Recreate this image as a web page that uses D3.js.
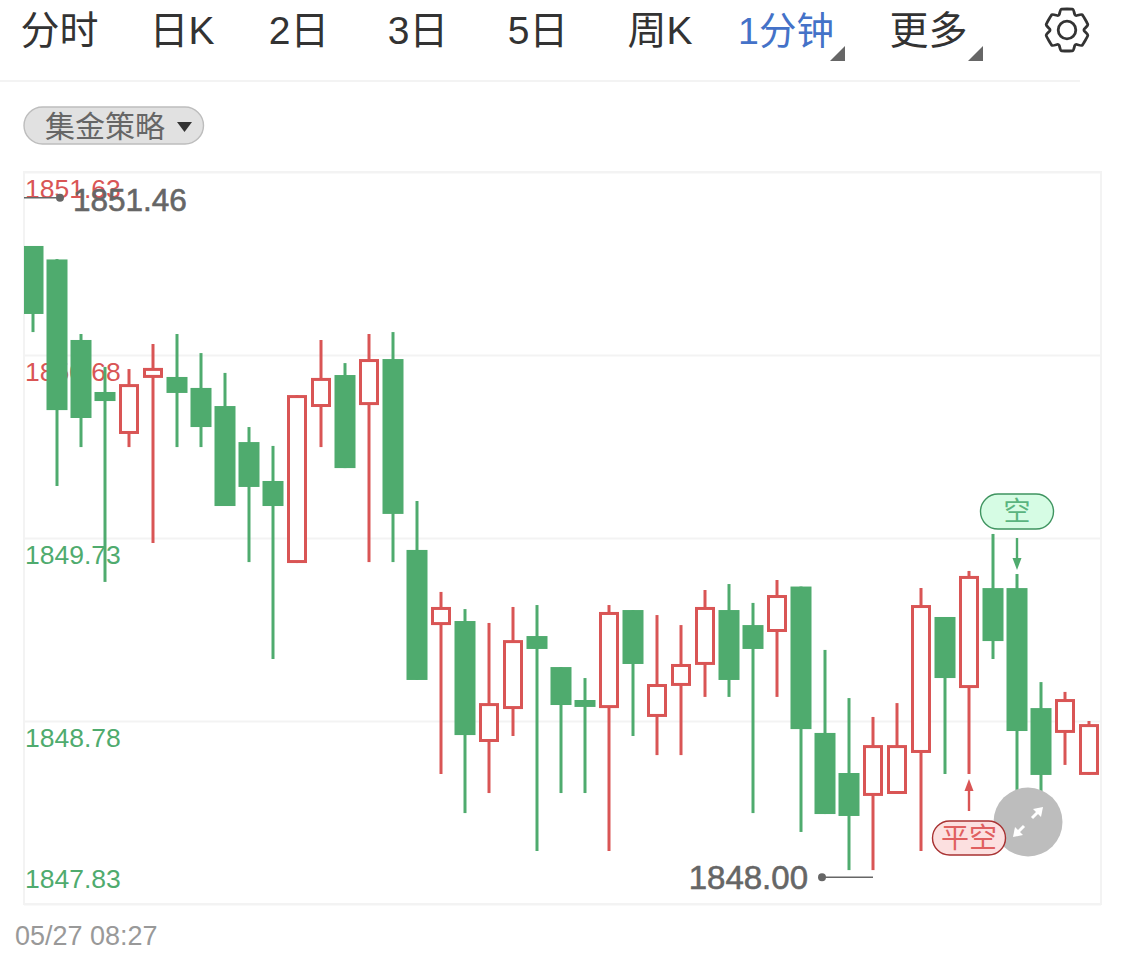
<!DOCTYPE html>
<html lang="zh">
<head>
<meta charset="utf-8">
<script src="https://cdn.jsdelivr.net/npm/d3@7/dist/d3.min.js"></script>
<style>
html,body{margin:0;padding:0;background:#fff}
svg{display:block}
text{font-family:"Liberation Sans","Noto Sans CJK SC",sans-serif}
</style>
</head>
<body>
<svg id="c" width="1125" height="968"></svg>
<script>
const tabLabels = ["分时","日K","2日","3日","5日","周K","1分钟","更多"];
const activeTab = "1分钟";
const strategyLabel = "集金策略";
const dateLabel = "05/27 08:27";
const axisTicks = [1851.63,1850.68,1849.73,1848.78,1847.83];
const maxLabel = 1851.46, minLabel = 1848.00;

const opens = [1851.246,1851.176,1850.758,1850.488,1850.270,1850.561,1850.566,1850.509,1850.415,1850.228,
 1850.026,1849.600,1850.410,1850.576,1850.420,1850.659,1849.668,1849.278,1849.299,1848.671,
 1848.842,1849.221,1849.060,1848.889,1848.847,1849.356,1848.801,1848.962,1849.071,1849.356,
 1849.278,1849.242,1849.478,1848.718,1848.510,1848.391,1848.401,1848.614,1849.320,1848.951,
 1849.470,1849.470,1848.847,1848.718,1848.500];
const closes = [1850.893,1850.394,1850.353,1850.441,1850.529,1850.613,1850.483,1850.306,1849.896,1849.995,
 1849.896,1850.472,1850.561,1850.093,1850.659,1849.855,1848.993,1849.372,1848.707,1848.873,
 1849.200,1849.154,1848.863,1848.853,1849.346,1849.076,1848.972,1849.076,1849.372,1848.993,
 1849.154,1849.434,1848.738,1848.297,1848.287,1848.655,1848.655,1849.382,1849.003,1849.533,
 1849.195,1848.728,1848.500,1848.894,1848.764];
const highs = [1851.246,1851.178,1850.789,1850.618,1850.607,1850.737,1850.789,1850.690,1850.587,1850.306,
 1850.208,1850.472,1850.758,1850.638,1850.789,1850.799,1849.922,1849.450,1849.361,1849.289,
 1849.372,1849.382,1849.060,1849.003,1849.382,1849.356,1849.330,1849.278,1849.460,1849.491,
 1849.393,1849.512,1849.478,1849.149,1848.899,1848.801,1848.873,1849.470,1849.320,1849.559,
 1849.751,1849.543,1848.982,1848.931,1848.780];
const lows = [1850.799,1850.000,1850.202,1849.502,1850.202,1849.704,1850.202,1850.202,1849.896,1849.605,
 1849.102,1849.600,1850.202,1850.093,1849.605,1849.605,1848.993,1848.505,1848.302,1848.406,
 1848.702,1848.105,1848.406,1848.406,1848.105,1848.702,1848.603,1848.603,1848.905,1848.905,
 1848.302,1848.905,1848.204,1848.297,1848.006,1848.006,1848.401,1848.105,1848.505,1848.505,
 1849.102,1848.406,1848.406,1848.552,1848.500];

const GREEN="#4fab6e", RED="#d95555", GRID="#f3f3f3";
const svg=d3.select("#c");
const frame={l:24,r:1101,t:172,b:904};

// Tabs
const tabX=d3.scaleOrdinal().domain(tabLabels).range([59.5,182,299,418,538,660,786,928.5]);
svg.append("g").selectAll("text").data(tabLabels).join("text")
  .attr("x",d=>tabX(d)).attr("y",44).attr("text-anchor","middle")
  .attr("font-size",d=>d===activeTab?37.5:39).attr("fill",d=>d===activeTab?"#4472c8":"#333").text(d=>d);
[[845,46],[983,46]].forEach(([x,y])=>{
  svg.append("path").attr("d",d3.line()([[x,y],[x,y+15],[x-15,y+15]])+"Z").attr("fill","#666");
});
svg.append("line").attr("x1",0).attr("x2",1080).attr("y1",81).attr("y2",81).attr("stroke",GRID).attr("stroke-width",2);

// Gear
const gearPts=[];
d3.range(6).forEach(i=>{
  const a=i*Math.PI/3;
  [[-0.47,17.2],[-0.27,21.5],[0.27,21.5],[0.47,17.2]].forEach(([o,r])=>gearPts.push([a+o,r]));
});
const gear=svg.append("g").attr("transform","translate(1067,30)").attr("fill","none").attr("stroke","#333").attr("stroke-width",2.8);
gear.append("path").attr("d",d3.lineRadial().curve(d3.curveCardinalClosed.tension(0.55))(gearPts));
gear.append("circle").attr("r",8.8);

// Strategy pill
svg.append("rect").attr("x",24).attr("y",107).attr("width",179.5).attr("height",37).attr("rx",18.5)
  .attr("fill","#e1e1e1").attr("stroke","#bdbdbd").attr("stroke-width",1.4);
svg.append("text").attr("x",45).attr("y",137).attr("font-size",30).attr("fill","#666").text(strategyLabel);
svg.append("path").attr("d",d3.line()([[177,122],[192,122],[184.5,132]])+"Z").attr("fill","#333");

// Scales
const y=d3.scaleLinear().domain([axisTicks[0],axisTicks[axisTicks.length-1]]).range([frame.t,frame.b]);
const x=d3.scaleBand().domain(d3.range(opens.length)).range([21,1101]).paddingInner(0.125).paddingOuter(0.0625);
const xc=i=>x(i)+x.bandwidth()/2;

// Frame
svg.append("rect").attr("x",frame.l).attr("y",frame.t).attr("width",frame.r-frame.l).attr("height",frame.b-frame.t)
  .attr("fill","#fff").attr("stroke",GRID).attr("stroke-width",2);

// Axis (grid + labels)
const axis=svg.append("g").attr("transform",`translate(${frame.l},0)`)
  .call(d3.axisRight(y).tickValues(axisTicks).tickSize(frame.r-frame.l).tickFormat(d3.format(".2f")));
axis.select(".domain").remove();
axis.selectAll(".tick line").attr("stroke",GRID).attr("stroke-width",2);
axis.selectAll(".tick text")
  .attr("x",1).attr("dy",(d,i)=>i===axisTicks.length-1?-17:25)
  .attr("font-size",26.5).attr("font-family",null)
  .attr("fill",(d,i)=>i<2?RED:GREEN);

// Candles
svg.append("clipPath").attr("id","plot").append("rect")
  .attr("x",frame.l).attr("y",frame.t).attr("width",frame.r-frame.l-2).attr("height",frame.b-frame.t);
const plot=svg.append("g").attr("clip-path","url(#plot)");
const rows=d3.range(opens.length).map(i=>({i,o:opens[i],c:closes[i],h:highs[i],l:lows[i],up:closes[i]>opens[i]}));
const g=plot.selectAll("g.candle").data(rows).join("g").attr("class","candle");
const SW=3;
g.append("line").attr("x1",d=>xc(d.i)).attr("x2",d=>xc(d.i))
  .attr("y1",d=>y(d.h)).attr("y2",d=>y(d.l))
  .attr("stroke",d=>d.up?RED:GREEN).attr("stroke-width",SW);
g.append("rect")
  .attr("x",d=>d.up?xc(d.i)-10+SW/2:x(d.i))
  .attr("width",d=>d.up?20-SW:x.bandwidth())
  .attr("y",d=>y(Math.max(d.o,d.c))+(d.up?SW/2:0))
  .attr("height",d=>Math.abs(y(d.o)-y(d.c))-(d.up?SW:0))
  .attr("fill",d=>d.up?"#fff":GREEN)
  .attr("stroke",d=>d.up?RED:"none")
  .attr("stroke-width",d=>d.up?SW:0);

// Max / min annotations
const ANN="#666";
const yMax=y(maxLabel)-7, yMin=y(minLabel)+6;
svg.append("line").attr("x1",frame.l).attr("x2",60).attr("y1",yMax).attr("y2",yMax).attr("stroke",ANN).attr("stroke-width",1.3);
svg.append("circle").attr("cx",60).attr("cy",yMax).attr("r",4).attr("fill",ANN);
svg.append("text").attr("x",73).attr("y",yMax+13).attr("font-size",31.5).attr("fill",ANN)
  .attr("stroke",ANN).attr("stroke-width",0.6).text(maxLabel.toFixed(2));
svg.append("line").attr("x1",xc(35)).attr("x2",822).attr("y1",yMin).attr("y2",yMin).attr("stroke",ANN).attr("stroke-width",1.3);
svg.append("circle").attr("cx",822).attr("cy",yMin).attr("r",4).attr("fill",ANN);
svg.append("text").attr("x",808).attr("y",yMin+12).attr("text-anchor","end").attr("font-size",33).attr("fill",ANN)
  .attr("stroke",ANN).attr("stroke-width",0.6).text(minLabel.toFixed(2));

// Expand button
svg.append("circle").attr("cx",1028).attr("cy",822).attr("r",34.5).attr("fill","#bdbdbd");
const ex=svg.append("g").attr("stroke","#fff").attr("stroke-width",3).attr("fill","#fff");
ex.append("line").attr("x1",1032).attr("y1",818).attr("x2",1040).attr("y2",810);
ex.append("line").attr("x1",1024).attr("y1",826).attr("x2",1016).attr("y2",834);
ex.append("path").attr("stroke","none").attr("d",d3.line()([[1043,807],[1033,809],[1041,817]])+"Z");
ex.append("path").attr("stroke","none").attr("d",d3.line()([[1013,837],[1015,827],[1023,835]])+"Z");

// Trade signals
function pill(cx,top,w,h,fill,stroke,color,label,fs){
  svg.append("rect").attr("x",cx-w/2).attr("y",top).attr("width",w).attr("height",h).attr("rx",h/2)
    .attr("fill",fill).attr("stroke",stroke).attr("stroke-width",1.4);
  svg.append("text").attr("x",cx).attr("y",top+h/2+fs*0.36).attr("text-anchor","middle")
    .attr("font-size",fs).attr("fill",color).text(label);
}
const sx=xc(41), sy=y(highs[41]);
svg.append("line").attr("x1",sx).attr("x2",sx).attr("y1",sy-36).attr("y2",sy-14).attr("stroke",GREEN).attr("stroke-width",2.4);
svg.append("path").attr("d",d3.line()([[sx-4.5,sy-16],[sx+4.5,sy-16],[sx,sy-4]])+"Z").attr("fill",GREEN);
pill(sx,sy-80,73,35,"#d6fce4","#3f9460","#5ab47f","空",27);
const cx=xc(39), cy=y(lows[39]);
svg.append("line").attr("x1",cx).attr("x2",cx).attr("y1",cy+37).attr("y2",cy+15).attr("stroke",RED).attr("stroke-width",2.4);
svg.append("path").attr("d",d3.line()([[cx-4.5,cy+17],[cx+4.5,cy+17],[cx,cy+5]])+"Z").attr("fill",RED);
pill(cx,cy+47,73,34,"#fce0e0","#a83232","#e06060","平空",28);

// Date
svg.append("text").attr("x",15).attr("y",945).attr("font-size",27).attr("fill","#999").text(dateLabel);
</script>
</body>
</html>
